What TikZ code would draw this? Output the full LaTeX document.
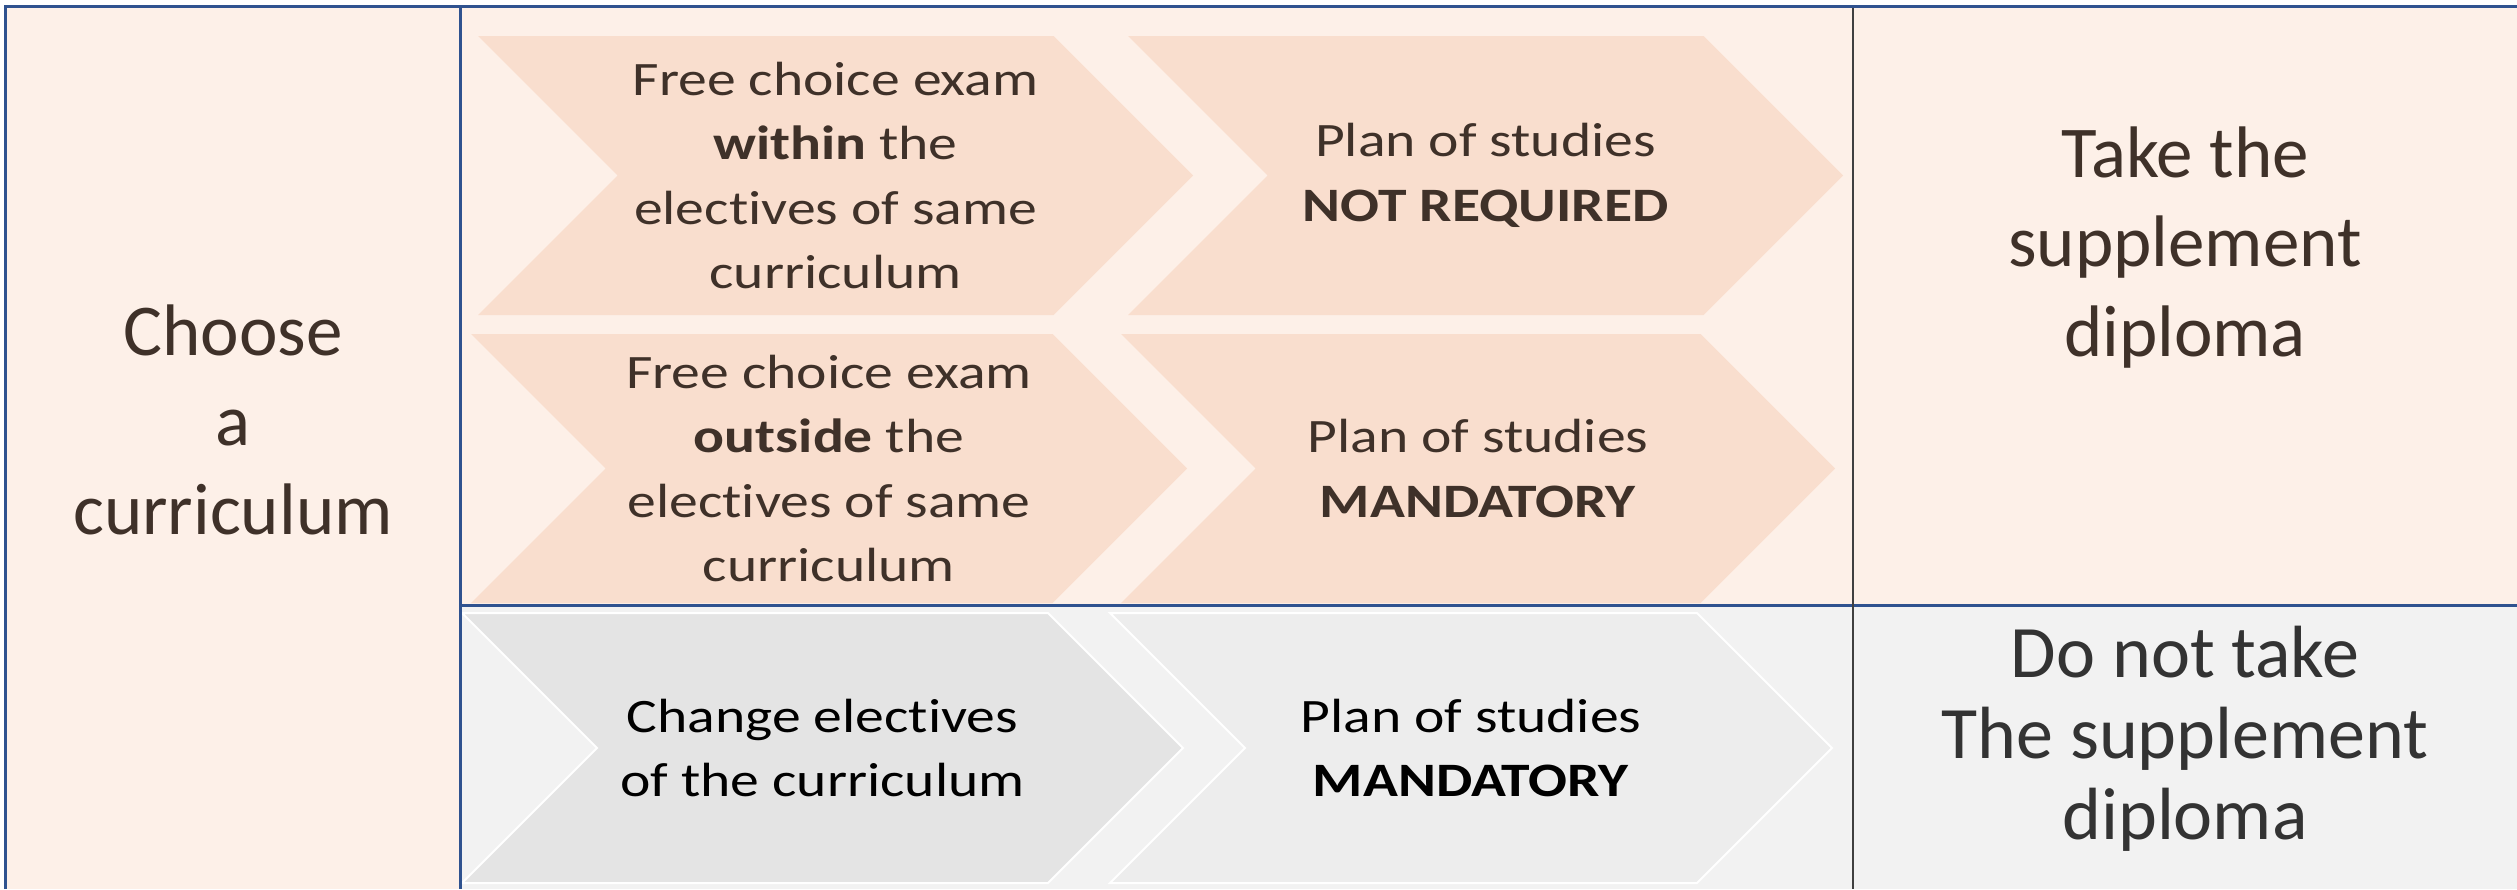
\documentclass[tikz,border=0pt]{standalone}
\usepackage{fontspec}
\setmainfont{Carlito}[Ligatures = NoCommon]
\newfontfamily\chevfont[FakeStretch = 1.2, Ligatures = NoCommon]{Carlito}
\usetikzlibrary{shapes.symbols}

\definecolor{peachbg}{HTML}{FDF0E8}
\definecolor{peachchev}{HTML}{F9DECE}
\definecolor{brownink}{HTML}{3F3129}
\definecolor{frameblue}{HTML}{2F528F}
\definecolor{grayrow}{HTML}{F2F2F2}
\definecolor{graychevA}{HTML}{E4E4E4}
\definecolor{graychevB}{HTML}{EDEDED}

\begin{document}
\begin{tikzpicture}[x = 1pt, y = -1pt,
                      chev/.style = {shape = signal, signal from = west, signal to = east,
                                     signal pointer angle = 90, inner sep = 0pt, align = center,
                                     font = \chevfont\fontsize{48}{64.5}\selectfont},
                      warm/.style = {chev, fill = peachchev, text = brownink},
                      cool/.style = {chev, draw = white, line width = 2pt, text = black},
                      big/.style = {align = center, font = \fontsize{73}{89.5}\selectfont}]
    \useasboundingbox (0, 0) rectangle (2517, 889);

    % backgrounds
    \fill [peachbg] (5, 6) rectangle (2517, 889);
    \fill [grayrow] (460, 605) rectangle (2517, 889);

    % first two rows
    \node [warm, minimum width = 715pt, minimum height = 279pt] (w1) at (835.5, 175.5)
        {Free choice exam\\\textbf{within} the\\electives of same\\curriculum};
    \node [warm, minimum width = 715pt, minimum height = 279pt] (w2) at (1485.5, 175.5)
        {Plan of studies\\\textbf{NOT REQUIRED}};
    \node [warm, minimum width = 716pt, minimum height = 269pt] (o1) at (829, 468.5)
        {Free choice exam\\\textbf{outside} the\\electives of same\\curriculum};
    \node [warm, minimum width = 714pt, minimum height = 269pt] (o2) at (1478, 468.5)
        {Plan of studies\\\textbf{MANDATORY}};

    % last row
    \node [cool, fill = graychevA, minimum width = 721pt, minimum height = 270pt] (g1) at (822.5, 748)
        {Change electives\\of the curriculum};
    \node [cool, fill = graychevB, minimum width = 722pt, minimum height = 270pt] (g2) at (1471, 748)
        {Plan of studies\\\textbf{MANDATORY}};

    % side texts
    \node [big, text = brownink] (choose) at (233, 420) {Choose\\a\\curriculum};
    \node [big, text = brownink] (take) at (2185, 247.5) {Take the\\supplement\\diploma};
    \node [big, text = black!80, font = \fontsize{74}{81}\selectfont] (nottake) at (2185, 738.5)
        {Do not take\\The supplement\\diploma};

    % frame
    \draw [frameblue, line width = 3pt] (5, 889) -- (5, 6) -- (2517, 6);
    \draw [frameblue, line width = 3pt] (460, 6) -- (460, 889);
    \draw [frameblue, line width = 3pt] (460, 605) -- (2517, 605);
    \draw [black!75, line width = 2pt] (1853, 7.5) -- (1853, 889);
\end{tikzpicture}
\end{document}
